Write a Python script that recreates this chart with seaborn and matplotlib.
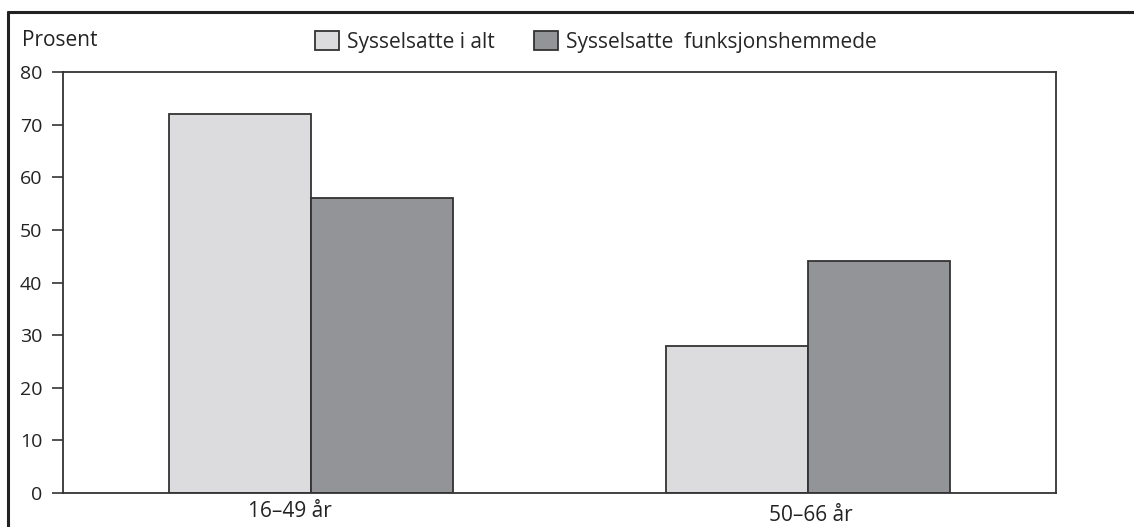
import pandas as pd
import matplotlib.pyplot as plt
import seaborn as sns
from matplotlib.lines import Line2D
from matplotlib.transforms import ScaledTranslation

# data
groups = ['16–49 år', '50–66 år']
series = ['Sysselsatte i alt', 'Sysselsatte  funksjonshemmede']
alle = [72, 28]
funk = [56, 44]

df = pd.DataFrame({
    'gruppe': groups * 2,
    'serie': [series[0]] * 2 + [series[1]] * 2,
    'verdi': alle + funk,
})

sns.set_style('white')
plt.rcParams['font.family'] = ['Open Sans', 'DejaVu Sans']

W, H = 1134, 527
fig = plt.figure(figsize=(W / 100, H / 100), dpi=100)
ax = fig.add_axes([63 / W, 1 - 493 / H, (1056 - 63) / W, (493 - 72) / H])

colors = {series[0]: '#dcdcde', series[1]: '#939497'}
sns.barplot(data=df, x='gruppe', y='verdi', hue='serie', palette=colors,
            width=0.573, edgecolor='#333333', linewidth=1.3, saturation=1,
            ax=ax)
ax.legend_.remove()

ax.set_ylim(0, 80)
ax.set_xlim(-0.5, 1.5)
ax.set_yticks(range(0, 81, 10))
ax.set_xlabel('')
ax.set_ylabel('')
for s in ax.spines.values():
    s.set_color('#333333')
    s.set_linewidth(1.3)
ax.tick_params(axis='y', left=True, length=8, width=1.2, color='#333333',
               labelsize=14, pad=7, labelcolor='#222222')
ax.tick_params(axis='x', bottom=False, labelsize=15, pad=2, labelcolor='#222222')

# category labels sit a bit off in the original
offsets = [(-21, 0), (3, -4)]
for lab, (dx, dy) in zip(ax.get_xticklabels(), offsets):
    lab.set_transform(lab.get_transform() + ScaledTranslation(dx / 100, dy / 100, fig.dpi_scale_trans))

fig.text(22 / W, 1 - 40 / H, 'Prosent', fontsize=15, va='center', ha='left',
         color='#222222')

handles, labels = ax.get_legend_handles_labels()
fig.legend(handles, labels, loc='center left', bbox_to_anchor=(315 / W, 1 - 42 / H),
           ncol=2, frameon=False, fontsize=15, handlelength=1.15, handleheight=0.96,
           handletextpad=0.38, columnspacing=1.9, borderaxespad=0, borderpad=0)

# outer frame (left and top edges)
fig.add_artist(Line2D([8 / W, 8 / W], [0, 1 - 12 / H], transform=fig.transFigure,
                      color='#222222', lw=2.2))
fig.add_artist(Line2D([8 / W, 1], [1 - 12 / H, 1 - 12 / H], transform=fig.transFigure,
                      color='#222222', lw=2.2))

fig.savefig('out.png', dpi=100)
